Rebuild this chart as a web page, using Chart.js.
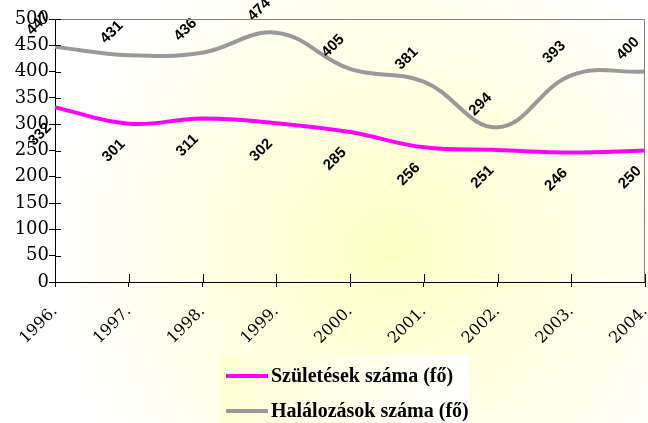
<!DOCTYPE html>
<html>
<head>
<meta charset="utf-8">
<script src="https://cdn.jsdelivr.net/npm/chart.js@4.4.0/dist/chart.umd.min.js"></script>
<style>
  html, body { margin: 0; padding: 0; background: #fff; }
  #wrap { width: 648px; height: 423px; position: relative; }
</style>
</head>
<body>
<div id="wrap"><canvas id="chart" width="648" height="423"></canvas></div>
<script>
// data
const years = ['1996.', '1997.', '1998.', '1999.', '2000.', '2001.', '2002.', '2003.', '2004.']
const births = [332, 301, 311, 302, 285, 256, 251, 246, 250]
const deaths = [447, 431, 436, 474, 405, 381, 294, 393, 400]
const seriesNames = ['Születések száma (fő)', 'Halálozások száma (fő)']

// soft yellow background behind everything
const bgPlugin = {
  id: 'bg',
  beforeDraw(chart) {
    const ctx = chart.ctx
    const g = ctx.createRadialGradient(390, 250, 10, 390, 250, 340)
    g.addColorStop(0, '#ffffc8')
    g.addColorStop(1, '#ffffff')
    ctx.save()
    ctx.fillStyle = g
    ctx.fillRect(0, 0, chart.width, chart.height)
    ctx.restore()
  }
}

// grey frame on top/right + tick marks that cross the axes
const framePlugin = {
  id: 'frame',
  afterDraw(chart) {
    const ctx = chart.ctx
    const a = chart.chartArea
    ctx.save()
    ctx.strokeStyle = '#808080'
    ctx.lineWidth = 1
    ctx.beginPath()
    ctx.moveTo(a.left, a.top + 0.5)
    ctx.lineTo(a.right - 0.5, a.top + 0.5)
    ctx.lineTo(a.right - 0.5, a.bottom)
    ctx.stroke()

    ctx.strokeStyle = '#000'
    ctx.beginPath()
    const x = chart.scales.x
    x.ticks.forEach((t, i) => {
      const px = Math.round(x.getPixelForTick(i)) + 0.5
      ctx.moveTo(px, a.bottom)
      ctx.lineTo(px, a.bottom - 8)
    })
    const y = chart.scales.y
    y.ticks.forEach((t, i) => {
      const py = Math.round(y.getPixelForTick(i)) + 0.5
      ctx.moveTo(a.left, py)
      ctx.lineTo(a.left + 6, py)
    })
    ctx.stroke()
    ctx.restore()
  }
}

// rotated value labels
const labelPlugin = {
  id: 'valueLabels',
  afterDatasetsDraw(chart) {
    const ctx = chart.ctx
    ctx.save()
    ctx.font = 'bold 15px "Liberation Sans", Arial, sans-serif'
    ctx.fillStyle = '#000'
    ctx.textAlign = 'center'
    ctx.textBaseline = 'middle'
    chart.data.datasets.forEach((ds, di) => {
      const meta = chart.getDatasetMeta(di)
      const off = di === 0 ? { x: -15, y: 27 } : { x: -17, y: -23 }
      meta.data.forEach((pt, i) => {
        ctx.save()
        ctx.translate(pt.x + off.x, pt.y + off.y)
        ctx.rotate(-Math.PI / 4)
        ctx.fillText(String(ds.data[i]), 0, 0)
        ctx.restore()
      })
    })
    ctx.restore()
  }
}

// legend box under the axis, items stacked
const legendPlugin = {
  id: 'boxLegend',
  afterDraw(chart) {
    const ctx = chart.ctx
    const bx = 220, by = 355, bw = 249, bh = 68
    ctx.save()
    const g = ctx.createLinearGradient(bx, 0, bx + bw, 0)
    g.addColorStop(0, '#ffffd4')
    g.addColorStop(1, '#ffffff')
    ctx.fillStyle = g
    ctx.fillRect(bx, by, bw, bh)
    ctx.font = 'bold 20px "Liberation Serif", "Times New Roman", serif'
    ctx.textBaseline = 'middle'
    ctx.fillStyle = '#000'
    const rows = [376, 411]
    chart.data.datasets.forEach((ds, i) => {
      ctx.strokeStyle = ds.borderColor
      ctx.lineWidth = 4
      ctx.beginPath()
      ctx.moveTo(226, rows[i])
      ctx.lineTo(268, rows[i])
      ctx.stroke()
      ctx.fillText(ds.label, 271, rows[i] + 1)
    })
    ctx.restore()
  }
}

new Chart(document.getElementById('chart'), {
  type: 'line',
  data: {
    labels: years,
    datasets: [
      {
        label: seriesNames[0],
        data: births,
        borderColor: '#ff00ff',
        borderWidth: 4,
        pointRadius: 0,
        tension: 0.4,
        fill: false
      },
      {
        label: seriesNames[1],
        data: deaths,
        borderColor: '#999999',
        borderWidth: 4,
        pointRadius: 0,
        tension: 0.4,
        fill: false
      }
    ]
  },
  options: {
    responsive: false,
    animation: false,
    layout: { padding: { top: 19, right: 3, left: 0, bottom: 0 } },
    plugins: {
      legend: { display: false },
      tooltip: { enabled: false }
    },
    scales: {
      x: {
        offset: false,
        afterFit: s => { s.height = 141; s.paddingLeft = 0; s.paddingRight = 0 },
        grid: { drawOnChartArea: false, color: '#000', tickLength: 5 },
        border: { color: '#000', width: 1 },
        ticks: {
          minRotation: 45,
          maxRotation: 45,
          color: '#000',
          padding: 15,
          font: { family: '"DejaVu Serif", serif', size: 16 }
        }
      },
      y: {
        min: 0,
        max: 500,
        afterFit: s => { s.width = 55; s.paddingTop = 0; s.paddingBottom = 0 },
        grid: { drawOnChartArea: false, color: '#000', tickLength: 6 },
        border: { color: '#000', width: 1 },
        ticks: {
          stepSize: 50,
          color: '#000',
          padding: 0,
          font: { family: '"DejaVu Serif", serif', size: 18 }
        }
      }
    }
  },
  plugins: [bgPlugin, framePlugin, labelPlugin, legendPlugin]
})
</script>
</body>
</html>
